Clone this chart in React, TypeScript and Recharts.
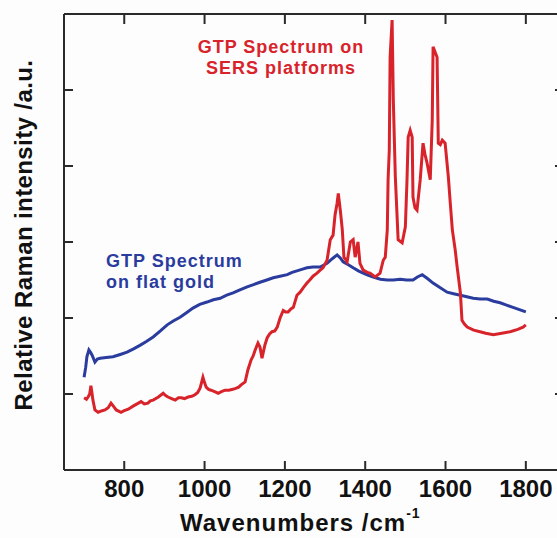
import { LineChart, Line, XAxis, YAxis } from "recharts";

// SERS spectrum (red)
const sersWavenumber = [
  700, 706, 710, 714, 717, 720, 722, 727, 735, 745, 752, 760, 767, 773, 780, 792, 800, 810, 822, 832,
  842, 850, 859, 865, 872, 885, 897, 903, 909, 918, 927, 935, 942, 950, 959, 968, 976, 983, 989, 996,
  1000, 1004, 1010, 1016, 1025, 1034, 1042, 1051, 1060, 1068, 1076, 1085, 1091, 1101, 1108, 1116, 1121, 1126, 1133, 1138,
  1143, 1150, 1156, 1162, 1168, 1175, 1181, 1188, 1196, 1202, 1208, 1215, 1221, 1230, 1238, 1246, 1255, 1262, 1270, 1280,
  1288, 1295, 1305, 1313, 1320, 1325, 1330, 1333, 1338, 1343, 1347, 1355, 1363, 1370, 1375, 1382, 1387, 1395, 1405, 1412,
  1425, 1437, 1445, 1450, 1455, 1457, 1460, 1462, 1467, 1470, 1475, 1482, 1492, 1500, 1504, 1507, 1512, 1517, 1519, 1524,
  1529, 1537, 1544, 1549, 1554, 1562, 1567, 1569, 1574, 1579, 1582, 1587, 1592, 1599, 1607, 1612, 1617, 1624, 1629, 1637,
  1641, 1647, 1654, 1670, 1686, 1700, 1719, 1740, 1761, 1780, 1793, 1800,
];
const sersIntensity = [
  0.95, 0.93, 0.96, 1.0, 1.11, 1.0, 0.92, 0.79, 0.76, 0.78, 0.79, 0.82, 0.88, 0.84, 0.79, 0.76, 0.78, 0.8, 0.84, 0.87,
  0.9, 0.87, 0.88, 0.91, 0.92, 0.96, 1.01, 0.98, 0.96, 0.94, 0.92, 0.95, 0.95, 0.94, 0.96, 0.97, 0.99, 1.02, 1.08, 1.22,
  1.15, 1.09, 1.06, 1.05, 1.03, 1.01, 1.03, 1.05, 1.05, 1.06, 1.07, 1.09, 1.12, 1.16, 1.32, 1.45, 1.5, 1.58, 1.67, 1.62,
  1.47, 1.64, 1.74, 1.79, 1.82, 1.83, 1.88, 2.0, 2.1, 2.08, 2.08, 2.12, 2.14, 2.3, 2.34, 2.4, 2.46, 2.5, 2.55, 2.59,
  2.63, 2.66, 2.76, 3.03, 3.09, 3.36, 3.51, 3.64, 3.42, 3.16, 2.8, 2.74, 3.0, 3.03, 2.8, 3.0, 2.72, 2.63, 2.6, 2.59,
  2.54, 2.59, 2.76, 2.8, 3.16, 3.82, 4.21, 5.43, 5.92, 4.87, 3.86, 3.03, 2.99, 3.2, 3.8, 4.38, 4.47, 4.38, 3.59, 3.45,
  3.42, 3.82, 4.3, 4.15, 4.04, 3.82, 4.61, 5.57, 5.5, 5.43, 4.3, 4.28, 4.34, 4.3, 3.86, 3.5, 3.16, 2.9, 2.67, 2.33,
  1.97, 1.92, 1.88, 1.84, 1.82, 1.8, 1.78, 1.8, 1.82, 1.85, 1.88, 1.91,
];

// flat gold spectrum (blue)
const goldWavenumber = [
  700, 704, 707, 712, 716, 720, 727, 733, 740, 755, 772, 790, 807, 822, 839, 855, 872, 890, 907, 922,
  939, 955, 971, 988, 1006, 1022, 1039, 1055, 1071, 1088, 1106, 1122, 1138, 1155, 1171, 1188, 1206, 1218, 1230, 1242,
  1255, 1270, 1288, 1305, 1318, 1330, 1338, 1345, 1358, 1370, 1383, 1395, 1408, 1420, 1438, 1455, 1470, 1487, 1503, 1519,
  1530, 1542, 1555, 1569, 1586, 1604, 1620, 1637, 1653, 1669, 1686, 1704, 1720, 1736, 1752, 1768, 1784, 1800,
];
const goldIntensity = [
  1.22, 1.35, 1.49, 1.58, 1.55, 1.51, 1.42, 1.46, 1.47, 1.48, 1.49, 1.52, 1.55, 1.59, 1.64, 1.69, 1.75, 1.83, 1.91, 1.96,
  2.01, 2.07, 2.13, 2.18, 2.21, 2.24, 2.26, 2.3, 2.33, 2.37, 2.41, 2.44, 2.47, 2.5, 2.53, 2.55, 2.57, 2.6, 2.62, 2.64,
  2.66, 2.67, 2.67, 2.72, 2.78, 2.83, 2.79, 2.74, 2.7, 2.66, 2.62, 2.59, 2.56, 2.54, 2.51, 2.5, 2.5, 2.51, 2.5, 2.5,
  2.54, 2.57, 2.52, 2.46, 2.4, 2.34, 2.32, 2.3, 2.28, 2.26, 2.25, 2.25, 2.22, 2.2, 2.17, 2.14, 2.11, 2.08,
];

const xTicks = [800, 1000, 1200, 1400, 1600, 1800];
const yTicks = [0, 1, 2, 3, 4, 5, 6];

const sersData = sersWavenumber.map((w, i) => ({ w, v: sersIntensity[i] }));
const goldData = goldWavenumber.map((w, i) => ({ w, v: goldIntensity[i] }));

const RED = "#d8232b";
const BLUE = "#2a3c9e";
const AXIS = "#2a2a2a";
const FONT = "'Liberation Sans', Arial, sans-serif";

// plot frame (px)
const LEFT = 64;
const TOP = 14;
const RIGHT = 566;
const BOTTOM = 470;
const W = 600;
const H = 538;
const XAXIS_H = 30;

// bottom axis tick: inward marks on bottom and top edges + label
const XTick = ({ x, payload }: any) => (
  <g>
    <line x1={x} x2={x} y1={BOTTOM} y2={BOTTOM - 9} stroke={AXIS} strokeWidth={2} />
    <line x1={x} x2={x} y1={TOP} y2={TOP + 10} stroke={AXIS} strokeWidth={2} />
    <text x={x} y={497} textAnchor="middle" fontFamily={FONT} fontWeight="bold" fontSize={24} fill="#111">
      {payload.value}
    </text>
  </g>
);

// left axis tick: inward marks on left and right edges, no label
const YTick = ({ y }: any) => (
  <g>
    <line x1={LEFT} x2={LEFT + 9} y1={y} y2={y} stroke={AXIS} strokeWidth={2} />
    <line x1={RIGHT} x2={RIGHT - 11} y1={y} y2={y} stroke={AXIS} strokeWidth={2} />
  </g>
);

export default function App() {
  return (
    <div style={{ position: "absolute", left: 0, top: 0, width: 557, height: 538, overflow: "hidden", background: "#fdfdfd" }}>
      <LineChart
        width={W}
        height={H}
        margin={{ top: TOP - 1, right: W - RIGHT - 1, bottom: H - BOTTOM - XAXIS_H, left: LEFT - 1 }}
      >
        <XAxis
          xAxisId="bottom"
          type="number"
          dataKey="w"
          domain={[650, 1900]}
          ticks={xTicks}
          height={XAXIS_H}
          tickLine={false}
          axisLine={{ stroke: AXIS, strokeWidth: 2 }}
          tick={<XTick />}
          allowDataOverflow
        />
        <XAxis
          xAxisId="top"
          orientation="top"
          type="number"
          dataKey="w"
          domain={[650, 1900]}
          height={1}
          tick={false}
          tickLine={false}
          axisLine={{ stroke: AXIS, strokeWidth: 2 }}
        />
        <YAxis
          yAxisId="left"
          type="number"
          domain={[0, 6]}
          ticks={yTicks}
          width={1}
          tickLine={false}
          axisLine={{ stroke: AXIS, strokeWidth: 2 }}
          tick={<YTick />}
          allowDataOverflow
        />
        <YAxis
          yAxisId="right"
          orientation="right"
          type="number"
          domain={[0, 6]}
          width={1}
          tick={false}
          tickLine={false}
          axisLine={{ stroke: AXIS, strokeWidth: 2 }}
        />
        <Line
          data={goldData}
          xAxisId="bottom"
          yAxisId="left"
          dataKey="v"
          type="linear"
          stroke={BLUE}
          strokeWidth={3}
          dot={false}
          isAnimationActive={false}
        />
        <Line
          data={sersData}
          xAxisId="bottom"
          yAxisId="left"
          dataKey="v"
          type="linear"
          stroke={RED}
          strokeWidth={3}
          dot={false}
          isAnimationActive={false}
        />

        {/* annotations */}
        <text x={281} y={53} textAnchor="middle" fontFamily={FONT} fontWeight="bold" fontSize={18} letterSpacing={1} fill={RED}>
          GTP Spectrum on
        </text>
        <text x={281} y={74} textAnchor="middle" fontFamily={FONT} fontWeight="bold" fontSize={18} letterSpacing={1} fill={RED}>
          SERS platforms
        </text>
        <text x={106} y={267} fontFamily={FONT} fontWeight="bold" fontSize={18} letterSpacing={1} fill={BLUE}>
          GTP Spectrum
        </text>
        <text x={106} y={288} fontFamily={FONT} fontWeight="bold" fontSize={18} letterSpacing={1} fill={BLUE}>
          on flat gold
        </text>

        {/* axis titles */}
        <text x={180} y={531} fontFamily={FONT} fontWeight="bold" fontSize={24} letterSpacing={1} fill="#111">
          Wavenumbers /cm
          <tspan dy={-13} fontSize={14}>-1</tspan>
        </text>
        <text
          x={32}
          y={235}
          transform="rotate(-90 32 235)"
          textAnchor="middle"
          fontFamily={FONT}
          fontWeight="bold"
          fontSize={24}
          letterSpacing={0.4}
          fill="#111"
        >
          Relative Raman intensity /a.u.
        </text>
      </LineChart>
    </div>
  );
}
